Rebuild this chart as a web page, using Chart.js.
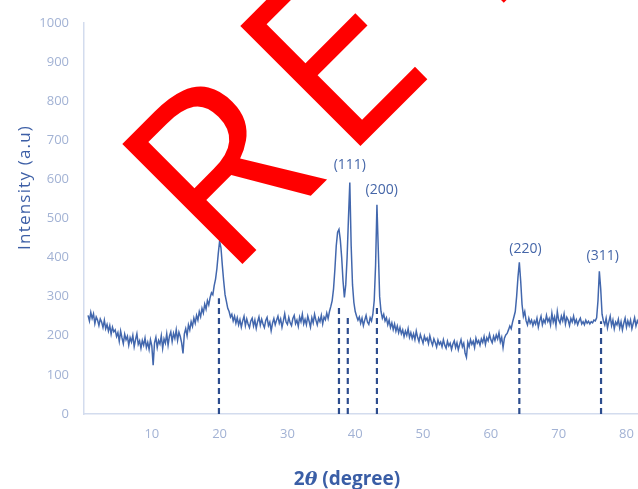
<!DOCTYPE html>
<html>
<head>
<meta charset="utf-8">
<script src="https://cdn.jsdelivr.net/npm/chart.js@4.4.1/dist/chart.umd.min.js"></script>
<style>
  html, body { margin: 0; padding: 0; background: #ffffff; overflow: hidden; }
  #wrap { position: relative; width: 638px; height: 489px; }
</style>
</head>
<body>
<div id="wrap"><canvas id="xrd" width="638" height="489"></canvas></div>
<script>
// Diffraction scan: sampled from 0.6° to 81.8° in 0.2° steps
const scanStart = 0.6;
const scanStep = 0.2;
const intensity = [
  252,238,260,244,256,231,248,240,226,243,
  235,221,240,218,229,212,226,204,222,210,
  215,198,208,186,212,195,180,204,190,199,
  176,195,184,201,172,190,205,178,187,168,
  188,176,194,170,183,165,190,174,125,182,
  196,170,188,179,200,168,192,181,205,176,
  199,210,185,206,193,215,188,209,198,182,
  155,205,218,200,228,215,236,224,245,232,
  252,240,262,249,270,258,281,268,290,279,
  298,310,305,328,345,372,410,442,425,380,
  340,305,288,270,262,248,255,238,250,232,
  246,228,241,222,238,250,226,243,230,221,
  238,245,225,240,219,236,248,227,242,230,
  221,239,247,226,235,213,232,244,228,240,
  250,232,243,222,238,256,235,229,247,233,
  226,244,252,231,240,224,248,236,255,230,
  242,228,250,237,222,246,233,255,240,228,
  245,236,252,230,248,241,258,244,262,275,
  290,320,370,430,465,472,445,400,340,298,
  330,400,500,592,430,330,285,262,250,240,
  248,232,245,226,240,252,235,229,246,238,
  255,290,380,535,420,300,262,245,255,238,
  246,228,240,221,233,216,230,212,225,208,
  221,205,215,198,212,201,218,196,208,193,
  205,190,212,196,185,203,192,181,199,188,
  194,180,200,186,176,192,183,171,189,178,
  184,172,190,176,168,186,174,181,165,179,
  187,170,182,164,178,190,172,181,156,145,
  183,172,190,178,186,170,194,181,188,176,
  192,183,198,178,195,187,204,190,182,199,
  188,202,192,208,184,196,170,194,202,206,
  215,225,218,235,248,262,300,350,388,340,
  280,250,262,238,228,245,232,240,226,238,
  230,245,222,238,250,228,241,233,252,236,
  244,228,258,235,248,226,262,240,232,250,
  238,256,230,247,240,226,244,235,250,232,
  241,228,238,245,230,236,228,240,232,237,
  230,236,233,240,238,246,290,365,320,255,
  238,228,245,220,236,250,226,240,218,235,
  228,242,220,236,215,232,245,222,238,226,
  240,218,232,246,225,238,230
];

// Reflection markers (dashed drop lines) and their top heights
const markerPos = [19.9, 37.6, 38.9, 43.2, 64.2, 76.25];
const markerTop = [296, 271, 250, 273, 240, 237];

// Miller index labels
const hklText = ['(111)', '(200)', '(220)', '(311)'];
const hklPos = [39.2, 43.9, 65.1, 76.5];
const hklLevel = [637, 572, 422, 403];

const yTicks = [0, 100, 200, 300, 400, 500, 600, 700, 800, 900, 1000];
const xTicks = [10, 20, 30, 40, 50, 60, 70, 80];

const scanPoints = intensity.map((v, i) => ({ x: +(scanStart + i * scanStep).toFixed(2), y: v }));

const markerSets = markerPos.map((p, i) => ({
  data: [{ x: p, y: 0 }, { x: p, y: markerTop[i] }],
  borderColor: '#2d4d8e',
  borderWidth: 2.2,
  borderDash: [6, 4],
  pointRadius: 0,
  fill: false,
  order: 1
}));

const tickColor = '#a2b2d4';
const axisLineColor = '#d3dcee';

// draws a string letter by letter; gaps[i] is the extra tracking after letter i
function spacedText(ctx, text, x, y, gaps) {
  let cx = x;
  [...text].forEach((ch, i) => {
    ctx.fillText(ch, cx, y);
    cx += ctx.measureText(ch).width + (Array.isArray(gaps) ? (gaps[i] ?? gaps[gaps.length - 1]) : gaps);
  });
}
function spacedWidth(ctx, text, spacing) {
  let w = 0;
  for (const ch of text) w += ctx.measureText(ch).width + spacing;
  return w - spacing;
}

const annotate = {
  id: 'annotate',
  afterDatasetsDraw(chart) {
    const { ctx, scales } = chart;
    const xs = scales.x, ys = scales.y;
    ctx.save();
    // peak labels
    ctx.fillStyle = '#4566a8';
    ctx.font = '14px "Open Sans", sans-serif';
    ctx.textAlign = 'center';
    ctx.textBaseline = 'middle';
    hklText.forEach((t, i) => {
      ctx.fillText(t, xs.getPixelForValue(hklPos[i]), ys.getPixelForValue(hklLevel[i]));
    });
    // y axis title
    ctx.save();
    ctx.translate(25, 188);
    ctx.rotate(-Math.PI / 2);
    ctx.fillStyle = '#3d5fa6';
    ctx.font = '17px "Open Sans", sans-serif';
    ctx.textAlign = 'left';
    const yt = 'Intensity (a.u)';
    const yw = spacedWidth(ctx, yt, 1.2);
    spacedText(ctx, yt, -yw / 2, 0, 1.2);
    ctx.restore();
    // x axis title: 2θ (degree)
    const parts = [
      { t: '2', f: 'bold 19px "Open Sans", sans-serif' },
      { t: 'θ', f: 'italic bold 19px "DejaVu Serif", serif' },
      { t: ' (degree)', f: 'bold 19px "Open Sans", sans-serif' }
    ];
    let total = 0;
    parts.forEach(p => { ctx.font = p.f; p.w = ctx.measureText(p.t).width; total += p.w; });
    let x = 347 - total / 2;
    ctx.textAlign = 'left';
    ctx.fillStyle = '#3a5ea6';
    parts.forEach(p => { ctx.font = p.f; ctx.fillText(p.t, x, 480); x += p.w; });
    ctx.restore();
  },
  afterDraw(chart) {
    const { ctx } = chart;
    ctx.save();
    ctx.translate(226, 280.5);
    ctx.rotate(-Math.PI / 4);
    ctx.fillStyle = '#ff0000';
    ctx.font = '238px "Open Sans", sans-serif';
    ctx.textAlign = 'left';
    ctx.textBaseline = 'alphabetic';
    spacedText(ctx, 'RETRACTED', 0, 0, [20, 38, 20]);
    ctx.restore();
  }
};

new Chart(document.getElementById('xrd'), {
  type: 'line',
  data: {
    datasets: [
      {
        data: scanPoints,
        borderColor: '#4267ad',
        borderWidth: 1.5,
        pointRadius: 0,
        tension: 0,
        fill: false,
        order: 2
      },
      ...markerSets
    ]
  },
  options: {
    responsive: false,
    animation: false,
    devicePixelRatio: 1,
    layout: { padding: { top: 18, right: 0, left: 0, bottom: 0 } },
    plugins: { legend: { display: false }, tooltip: { enabled: false }, title: { display: false } },
    scales: {
      x: {
        type: 'linear',
        min: 0,
        max: 81.7,
        afterBuildTicks(scale) { scale.ticks = xTicks.map(v => ({ value: v })); },
        afterFit(scale) { scale.height = 75; scale.paddingLeft = 0; scale.paddingRight = 0; },
        grid: { display: false, drawTicks: false },
        border: { display: true, color: axisLineColor, width: 1.5 },
        ticks: { color: tickColor, font: { family: 'Open Sans', size: 13 }, padding: 12, maxRotation: 0,
                 callback: v => String(v) }
      },
      y: {
        type: 'linear',
        min: 0,
        max: 1000,
        afterBuildTicks(scale) { scale.ticks = yTicks.map(v => ({ value: v })); },
        afterFit(scale) { scale.width = 84; },
        grid: { display: false, drawTicks: false },
        border: { display: true, color: axisLineColor, width: 1.5 },
        ticks: { color: tickColor, font: { family: 'Open Sans', size: 13 }, padding: 15,
                 callback: v => String(v) }
      }
    }
  },
  plugins: [annotate]
});
</script>
</body>
</html>
